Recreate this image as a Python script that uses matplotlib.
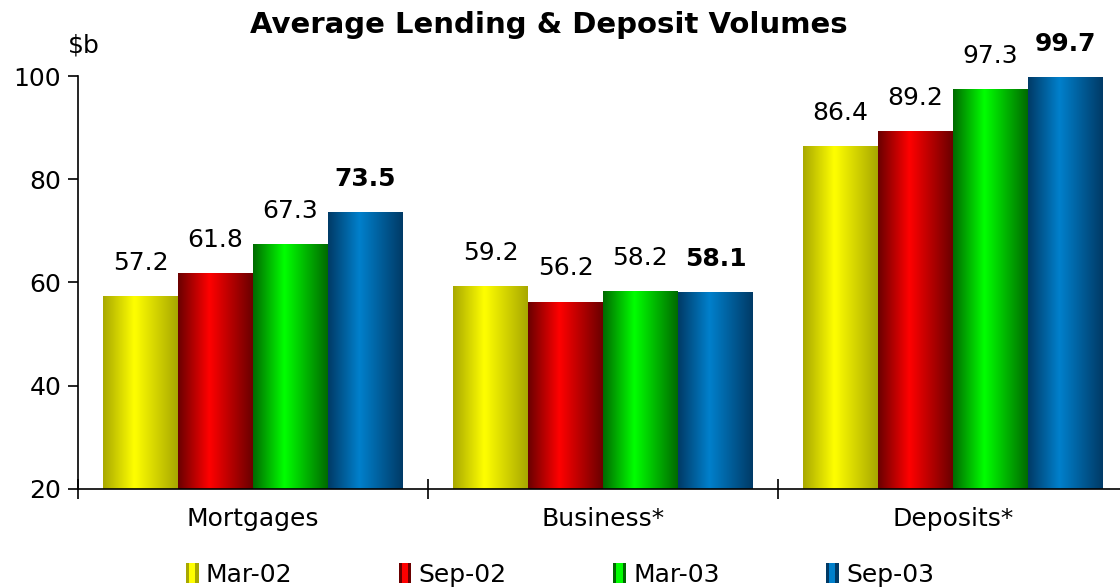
import numpy as np
import matplotlib.pyplot as plt
from matplotlib.colors import LinearSegmentedColormap
from matplotlib.legend_handler import HandlerBase
from matplotlib.patches import Rectangle

# data
categories = ["Mortgages", "Business*", "Deposits*"]
series = ["Mar-02", "Sep-02", "Mar-03", "Sep-03"]
mar02 = [57.2, 59.2, 86.4]
sep02 = [61.8, 56.2, 89.2]
mar03 = [67.3, 58.2, 97.3]
sep03 = [73.5, 58.1, 99.7]
values = [mar02, sep02, mar03, sep03]

# (dark edge, bright centre) for each series
shades = [("#a8a800", "#ffff00"), ("#6a0000", "#ff0000"),
          ("#006a00", "#00ff00"), ("#003a66", "#0080cc")]

plt.rcParams['font.family'] = ['DejaVu Sans']
fig = plt.figure(figsize=(11.2, 5.87), dpi=100)
ax = fig.add_axes([78 / 1120, 1 - 489 / 587, 1050 / 1120, 413 / 587])

x = np.arange(len(categories))
w = 0.857 / len(series)
grad = np.linspace(0, 1, 256).reshape(1, -1)

cmaps = []
for dark, bright in shades:
    cm = LinearSegmentedColormap.from_list("g", [(0, dark), (0.42, bright), (1, dark)])
    cmaps.append(cm)

for i, vals in enumerate(values):
    for j, v in enumerate(vals):
        x0 = x[j] - 0.857 / 2 + i * w
        ax.imshow(grad, cmap=cmaps[i], aspect='auto', extent=(x0, x0 + w, 20, v),
                  interpolation='bicubic', zorder=2)
        ax.text(x0 + w / 2, v + 4.2, f"{v:.1f}", ha='center', va='bottom',
                fontsize=18, fontweight='bold' if i == len(series) - 1 else 'normal')

ax.set_xlim(-0.5, 2.5)
ax.set_ylim(20, 100)
ax.set_yticks([20, 40, 60, 80, 100])
ax.tick_params(axis='y', labelsize=18, length=7, width=1.2, direction='out', pad=5)
ax.set_xticks([-0.5, 0.5, 1.5, 2.5])
ax.set_xticklabels([])
ax.tick_params(axis='x', which='major', length=14, width=1.2, direction='inout')
ax.set_xticks(x, minor=True)
ax.set_xticklabels(categories, minor=True)
ax.tick_params(axis='x', which='minor', length=0, labelsize=18, pad=13)
for s in ['top', 'right']:
    ax.spines[s].set_visible(False)
for s in ['left', 'bottom']:
    ax.spines[s].set_linewidth(1.2)


class GradHandler(HandlerBase):
    def __init__(self, dark, bright):
        super().__init__()
        self.dark = dark
        self.bright = bright

    def create_artists(self, legend, orig, xd, yd, width, height, fontsize, trans):
        cols = [self.dark, self.bright, self.bright, self.dark]
        sw = width / len(cols)
        arts = []
        for k, c in enumerate(cols):
            r = Rectangle((xd + k * sw, yd - 1), sw, height + 2, facecolor=c,
                          edgecolor='none', transform=trans)
            arts.append(r)
        return arts


handles = [Rectangle((0, 0), 1, 1) for _ in series]
hmap = {h: GradHandler(*shades[i]) for i, h in enumerate(handles)}
fig.legend(handles, series, handler_map=hmap, loc='center', ncol=4,
           bbox_to_anchor=(0.5, 1 - 575 / 587), frameon=False, fontsize=18,
           handlelength=0.5, handletextpad=0.3, columnspacing=4.25)

fig.text(0.49, 1 - 25 / 587, "Average Lending & Deposit Volumes", ha='center',
         va='center', fontsize=21, fontweight='bold')
fig.text(68 / 1120, 1 - 45 / 587, "$b", ha='left', va='center', fontsize=18)

fig.savefig("out.png", dpi=100)
